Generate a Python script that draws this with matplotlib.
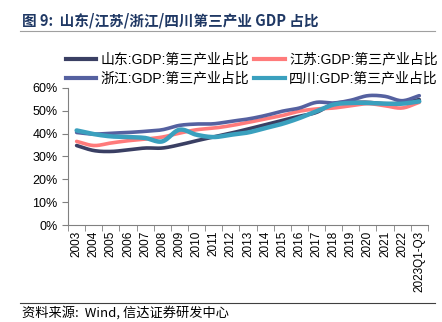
import numpy as np
import matplotlib.pyplot as plt
from matplotlib.lines import Line2D

plt.rcParams['font.family'] = ['Liberation Sans', 'Noto Sans CJK SC', 'DejaVu Sans']

years = ['2003', '2004', '2005', '2006', '2007', '2008', '2009', '2010', '2011', '2012',
         '2013', '2014', '2015', '2016', '2017', '2018', '2019', '2020', '2021', '2022',
         '2023Q1-Q3']
shandong = [34.8, 32.6, 32.2, 32.9, 33.7, 33.7, 35.1, 36.9, 38.5, 40.2, 42.0,
            43.9, 45.8, 47.6, 49.3, 53.1, 53.7, 53.7, 53.1, 53.4, 54.9]
jiangsu = [36.6, 34.8, 35.9, 36.9, 37.6, 38.5, 40.2, 41.7, 42.4, 43.5, 44.9,
           46.4, 47.9, 49.8, 50.8, 51.2, 52.2, 53.1, 52.2, 51.2, 53.7]
zhejiang = [40.5, 39.8, 40.2, 40.5, 41.0, 41.7, 43.6, 44.2, 44.3, 45.4, 46.4,
            47.9, 49.8, 51.2, 53.7, 53.4, 54.6, 56.6, 56.3, 54.4, 56.6]
sichuan = [41.4, 39.8, 38.8, 38.5, 38.1, 36.6, 41.7, 39.5, 38.5, 39.5, 40.5,
           42.4, 44.3, 46.8, 49.8, 52.7, 53.4, 53.4, 53.1, 53.1, 54.1]

names = ['山东:GDP:第三产业占比', '江苏:GDP:第三产业占比',
         '浙江:GDP:第三产业占比', '四川:GDP:第三产业占比']
colors = ['#3a3f63', '#ff7b7b', '#5561a0', '#3aa0be']
widths = [2.6, 2.6, 2.6, 3.2]


def smooth(y, n=12):
    # catmull-rom style curve through the points, like excel "smoothed line"
    y = np.asarray(y, float)
    x = np.arange(len(y), dtype=float)
    p = np.concatenate([[2 * y[0] - y[1]], y, [2 * y[-1] - y[-2]]])
    xs, ys = [], []
    for i in range(len(y) - 1):
        t = np.linspace(0, 1, n, endpoint=False)
        p0, p1, p2, p3 = p[i], p[i + 1], p[i + 2], p[i + 3]
        v = 0.5 * (2 * p1 + (-p0 + p2) * t + (2 * p0 - 5 * p1 + 4 * p2 - p3) * t ** 2
                   + (-p0 + 3 * p1 - 3 * p2 + p3) * t ** 3)
        xs.append(x[i] + t)
        ys.append(v)
    xs.append([x[-1]])
    ys.append([y[-1]])
    return np.concatenate(xs), np.concatenate(ys)


fig = plt.figure(figsize=(4.42, 3.22), dpi=100)
ax = fig.add_axes([0.154, 0.301, 0.814, 0.426])

for vals, c, w in zip([shandong, jiangsu, zhejiang, sichuan], colors, widths):
    xs, ys = smooth(vals)
    ax.plot(xs, ys, color=c, lw=w, solid_capstyle='round')

ax.set_xlim(-0.5, len(years) - 0.5)
ax.set_ylim(0, 60)
ax.set_yticks(range(0, 61, 10))
ax.set_yticklabels([f'{v}%' for v in range(0, 61, 10)], fontsize=9)
ax.set_xticks(range(len(years)))
ax.set_xticklabels(years, rotation=90, fontsize=8.5)
ax.set_xticks(np.arange(-0.5, len(years)), minor=True)
ax.tick_params(axis='x', which='major', length=0, pad=4)
ax.tick_params(axis='x', which='minor', length=4, color='#808080')
ax.tick_params(axis='y', length=4, color='#808080')
for s in ['top', 'right']:
    ax.spines[s].set_visible(False)
for s in ['left', 'bottom']:
    ax.spines[s].set_color('#808080')

# legend fills column by column, so order handles to get rows 山东/江苏, 浙江/四川
order = [0, 2, 1, 3]
handles = [Line2D([], [], color=colors[i], lw=3) for i in order]
fig.legend(handles, [names[i] for i in order], loc='upper left',
           bbox_to_anchor=(0.12, 0.875), ncol=2,
           frameon=False, fontsize=10, handlelength=2.2, handletextpad=0.3,
           columnspacing=0.4, labelspacing=0.35)

fig.text(0.05, 0.935, '图 9:  山东/江苏/浙江/四川第三产业 GDP 占比', fontsize=10.5,
         fontweight='bold', color='#1f3864', va='center',
         family=['Noto Sans CJK SC', 'DejaVu Sans'])
fig.add_artist(Line2D([0.045, 0.985], [0.903, 0.903], color='#a0a0a0', lw=0.8))
fig.add_artist(Line2D([0.045, 0.985], [0.058, 0.058], color='#404040', lw=0.8))
fig.text(0.05, 0.03, '资料来源:  Wind, 信达证券研发中心', fontsize=9.5, va='center',
         family=['Noto Sans CJK SC', 'DejaVu Sans'])

fig.savefig('out.png', dpi=100)
